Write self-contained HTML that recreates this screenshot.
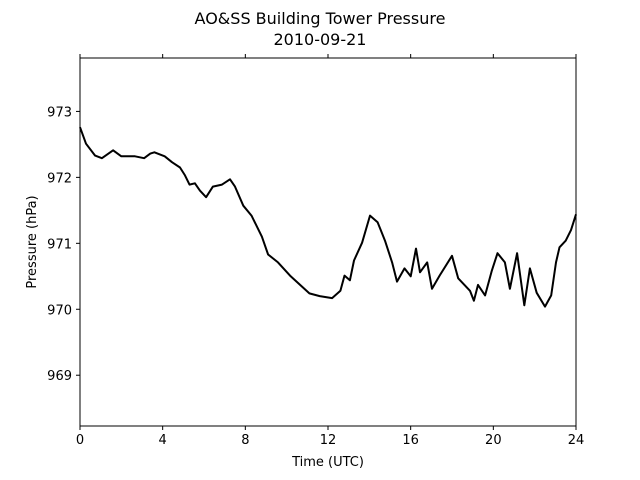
<!DOCTYPE html>
<html><head><meta charset="utf-8"><style>
body{margin:0;background:#fff}
svg{display:block;font-family:"DejaVu Sans","Liberation Sans",sans-serif}
</style></head><body>
<svg id="chart" width="640" height="480" viewBox="0 0 640 480">
<rect width="640" height="480" fill="#fff"/>
<text x="320" y="24" text-anchor="middle" font-size="16">AO&amp;SS Building Tower Pressure</text>
<text x="320" y="45" text-anchor="middle" font-size="16">2010-09-21</text>
<g id="xt"></g><g id="yt"></g>
<path id="line" fill="none" stroke="#000" stroke-width="2" stroke-linejoin="round"/>
<rect x="80" y="58" width="496" height="368" fill="none" stroke="#000" stroke-width="1"/>
<text x="328" y="466" text-anchor="middle" font-size="13">Time (UTC)</text>
<text transform="translate(36,242) rotate(-90)" text-anchor="middle" font-size="13">Pressure (hPa)</text>
</svg>
<script>
const times=[0,0.29,0.73,1.06,1.6,2.0,2.66,3.1,3.4,3.6,4.1,4.45,4.84,5.08,5.3,5.56,5.8,6.1,6.43,6.87,7.26,7.5,7.9,8.3,8.8,9.1,9.58,10.16,10.65,11.1,11.6,12.2,12.6,12.8,13.06,13.26,13.65,14.03,14.4,14.76,15.1,15.34,15.7,16.0,16.26,16.45,16.8,17.03,17.4,18.0,18.3,18.87,19.06,19.26,19.6,19.93,20.2,20.56,20.8,21.15,21.5,21.77,22.1,22.5,22.8,23.03,23.2,23.5,23.76,24];
const pressure=[972.76,972.51,972.33,972.29,972.41,972.32,972.32,972.29,972.36,972.38,972.32,972.23,972.15,972.03,971.89,971.91,971.8,971.7,971.86,971.89,971.97,971.86,971.57,971.42,971.1,970.83,970.71,970.51,970.37,970.24,970.2,970.17,970.28,970.51,970.44,970.74,971.01,971.42,971.32,971.04,970.71,970.42,970.62,970.5,970.92,970.56,970.71,970.31,970.51,970.81,970.47,970.28,970.13,970.37,970.21,970.59,970.85,970.71,970.31,970.85,970.06,970.62,970.25,970.04,970.21,970.71,970.94,971.04,971.2,971.44];
const xTicks=[0,4,8,12,16,20,24];
const yTicks=[969,970,971,972,973];
const X0=80,X1=576,Y0=426,Y1=58,XMIN=0,XMAX=24,YMIN=968.23,YMAX=973.81;
const sx=t=>X0+(t-XMIN)/(XMAX-XMIN)*(X1-X0);
const sy=v=>Y0-(v-YMIN)/(YMAX-YMIN)*(Y0-Y1);
const NS="http://www.w3.org/2000/svg";
document.getElementById('line').setAttribute('d',times.map((t,i)=>(i?'L':'M')+sx(t).toFixed(1)+','+sy(pressure[i]).toFixed(1)).join(''));
const xt=document.getElementById('xt');
xTicks.forEach(t=>{
 const x=sx(t);
 [[Y0,Y0+4],[Y1,Y1-4]].forEach(([a,b])=>{const l=document.createElementNS(NS,'line');
 l.setAttribute('x1',x);l.setAttribute('x2',x);l.setAttribute('y1',a);l.setAttribute('y2',b);l.setAttribute('stroke','#000');
 
 
 xt.appendChild(l);});
 const tx=document.createElementNS(NS,'text');
 tx.setAttribute('x',x);tx.setAttribute('y',Y0+18);tx.setAttribute('text-anchor','middle');tx.setAttribute('font-size','13');
 tx.textContent=t;
 
 
 xt.appendChild(tx);
});
const yt=document.getElementById('yt');
yTicks.forEach(v=>{
 const y=sy(v);
 const l=document.createElementNS(NS,'line');
 l.setAttribute('x1',X0-4);l.setAttribute('x2',X0);l.setAttribute('y1',y);l.setAttribute('y2',y);l.setAttribute('stroke','#000');
 
 
 yt.appendChild(l);
 const tx=document.createElementNS(NS,'text');
 tx.setAttribute('x',X0-8);tx.setAttribute('y',y+5);tx.setAttribute('text-anchor','end');tx.setAttribute('font-size','13');
 tx.textContent=v;
 
 
 yt.appendChild(tx);
});
</script>
</body></html>
